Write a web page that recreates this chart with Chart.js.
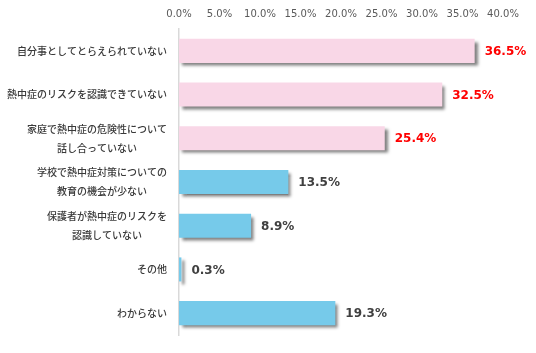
<!DOCTYPE html>
<html>
<head>
<meta charset="utf-8">
<script src="https://cdn.jsdelivr.net/npm/chart.js@4/dist/chart.umd.min.js"></script>
<style>
html,body{margin:0;padding:0;background:#fff;}
#wrap{width:536px;height:353px;position:relative;}
</style>
</head>
<body>
<div id="wrap"><canvas id="c" width="536" height="353"></canvas></div>
<script>
const categories = [
  ["自分事としてとらえられていない"],
  ["熱中症のリスクを認識できていない"],
  ["家庭で熱中症の危険性について", "話し合っていない"],
  ["学校で熱中症対策についての", "教育の機会が少ない"],
  ["保護者が熱中症のリスクを", "認識していない"],
  ["その他"],
  ["わからない"]
];
const values = [36.5, 32.5, 25.4, 13.5, 8.9, 0.3, 19.3];
const barColors = ["#F9D7E7", "#F9D7E7", "#F9D7E7", "#76CAEA", "#76CAEA", "#76CAEA", "#76CAEA"];
const labelColors = ["#FF0000", "#FF0000", "#FF0000", "#404040", "#404040", "#404040", "#404040"];
const xTicks = [0, 5, 10, 15, 20, 25, 30, 35, 40];

const JP = '"Noto Sans CJK JP", sans-serif';
const NUM = '"DejaVu Sans", Verdana, sans-serif';

const shadowPlugin = {
  id: 'shadow',
  beforeDatasetsDraw(chart) {
    const ctx = chart.ctx;
    ctx.save();
    ctx.shadowColor = 'rgba(0,0,0,0.5)';
    ctx.shadowBlur = 3;
    ctx.shadowOffsetX = 3;
    ctx.shadowOffsetY = 3;
  },
  afterDatasetsDraw(chart) {
    chart.ctx.restore();
  }
};

const labelPlugin = {
  id: 'labels',
  afterDraw(chart) {
    const ctx = chart.ctx;
    const yScale = chart.scales.y;
    const meta = chart.getDatasetMeta(0);
    ctx.save();
    ctx.font = '500 10px ' + JP;
    ctx.fillStyle = '#3A3A3A';
    ctx.textBaseline = 'middle';
    ctx.textAlign = 'center';
    const rightX = chart.chartArea.left - 12;
    const lh = 19;
    categories.forEach((lines, i) => {
      const yc = yScale.getPixelForValue(i);
      const widest = Math.max(...lines.map(l => ctx.measureText(l).width));
      const cx = rightX - widest / 2;
      const y0 = yc - (lines.length - 1) * lh / 2;
      lines.forEach((l, j) => ctx.fillText(l, cx, y0 + j * lh));
    });
    ctx.font = 'bold 12px ' + NUM;
    ctx.textAlign = 'left';
    meta.data.forEach((bar, i) => {
      ctx.fillStyle = labelColors[i];
      ctx.fillText(values[i].toFixed(1) + '%', bar.x + 10, bar.y + 1);
    });
    ctx.restore();
  }
};

new Chart(document.getElementById('c'), {
  type: 'bar',
  data: {
    labels: categories.map(c => c.join('')),
    datasets: [{
      data: values,
      backgroundColor: barColors,
      borderWidth: 0,
      categoryPercentage: 0.55,
      barPercentage: 1
    }]
  },
  options: {
    indexAxis: 'y',
    responsive: false,
    animation: false,
    layout: { padding: { left: 0, right: 33, top: 0, bottom: 18 } },
    plugins: { legend: { display: false }, tooltip: { enabled: false } },
    scales: {
      x: {
        position: 'top',
        min: 0, max: 40,
        afterBuildTicks(s) { s.ticks = xTicks.map(v => ({ value: v })); },
        afterFit(s) { s.height = 29; },
        grid: { display: false, drawTicks: false },
        border: { display: false },
        ticks: {
          padding: 9,
          color: '#595959',
          font: { family: NUM, size: 10 },
          callback: v => Number(v).toFixed(1) + '%'
        }
      },
      y: {
        afterFit(s) { s.width = 179; },
        grid: { display: false, drawTicks: false },
        border: { display: true, color: '#D9D9D9', width: 1.5 },
        ticks: { display: false }
      }
    }
  },
  plugins: [shadowPlugin, labelPlugin]
});
</script>
</body>
</html>
